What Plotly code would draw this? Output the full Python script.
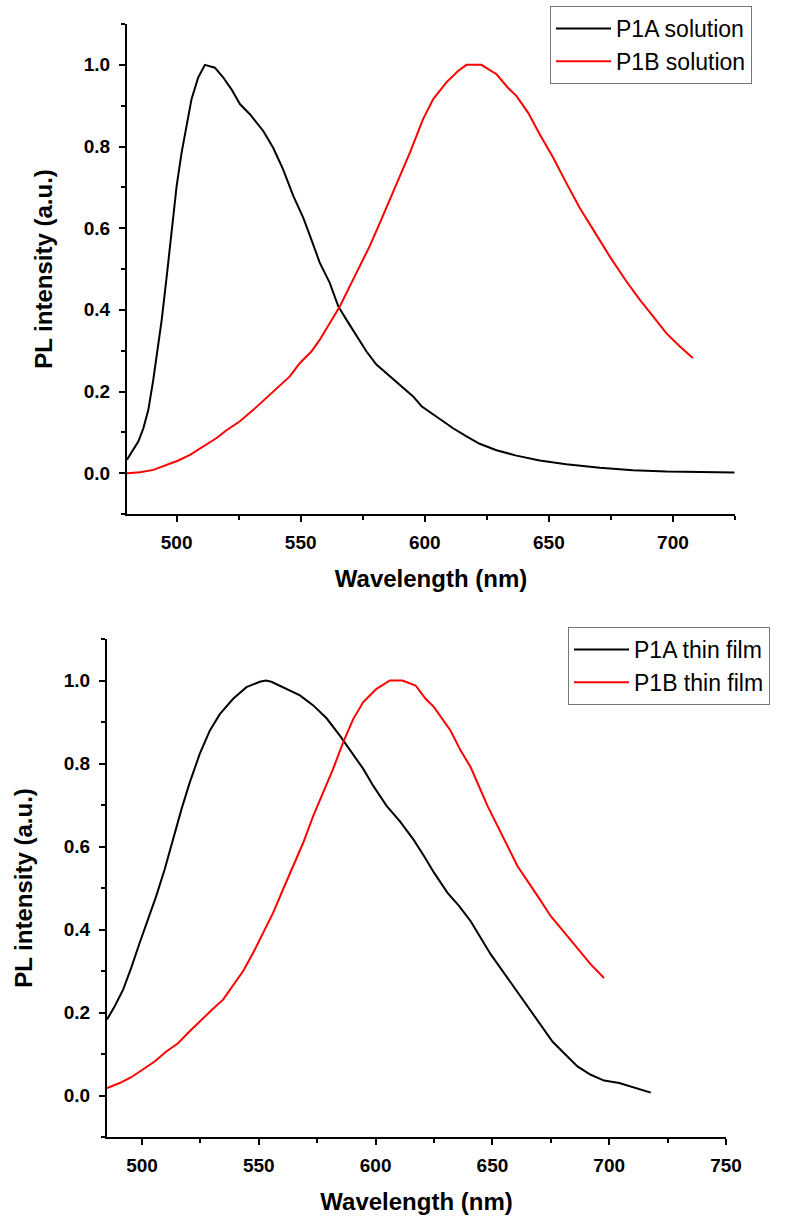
import plotly.graph_objects as go

# ---------------- data ----------------
sol_A_wl = [480, 484.6, 486.6, 488.6, 490.6, 492.2, 494, 496, 498, 500, 502, 504, 506, 508.7, 511.4,
            515.4, 518.8, 522.1, 525.5, 529.5, 534.9, 538.9, 542.9, 547, 551, 554.3, 557.7, 561.7,
            565.1, 568.4, 572.5, 576.5, 580.5, 585.9, 590.6, 595.3, 598.7, 602.7, 606, 611.4, 616.8,
            622.1, 628.9, 636.9, 646.3, 657, 670.5, 683.9, 697.3, 710.7, 724.8]
sol_A_int = [0.033, 0.078, 0.11, 0.155, 0.229, 0.294, 0.376, 0.482, 0.589, 0.703, 0.785, 0.85, 0.916,
             0.969, 1.0, 0.993, 0.969, 0.94, 0.904, 0.879, 0.838, 0.797, 0.744, 0.679, 0.626, 0.572,
             0.515, 0.466, 0.409, 0.376, 0.335, 0.298, 0.266, 0.237, 0.211, 0.188, 0.164, 0.147, 0.131,
             0.11, 0.09, 0.072, 0.056, 0.043, 0.031, 0.022, 0.013, 0.007, 0.004, 0.0025, 0.0016]

sol_B_wl = [480, 485.2, 490.6, 496, 500.7, 505.4, 510.7, 516.1, 520.1, 525.5, 530.9, 536.2, 541.6,
            545.6, 549.7, 554.3, 557.7, 561.7, 565.8, 569.8, 573.8, 577.8, 581.9, 585.9, 589.9, 594,
            599.3, 603.4, 608.7, 613.4, 616.8, 622.8, 628.9, 633.5, 636.9, 641.6, 646.3, 651.7, 657,
            662.4, 667.8, 674.5, 681.2, 686.6, 692, 697.3, 702.7, 708]
sol_B_int = [0.0, 0.002, 0.008, 0.02, 0.031, 0.045, 0.065, 0.086, 0.105, 0.127, 0.155, 0.184, 0.213,
             0.237, 0.27, 0.298, 0.327, 0.368, 0.409, 0.458, 0.507, 0.556, 0.613, 0.67, 0.728, 0.785,
             0.867, 0.916, 0.957, 0.985, 1.0, 1.0, 0.977, 0.944, 0.924, 0.883, 0.83, 0.773, 0.711,
             0.65, 0.597, 0.531, 0.47, 0.425, 0.384, 0.343, 0.311, 0.282]

film_A_wl = [485, 488.3, 491.9, 495.4, 499, 502.6, 506.1, 509.7, 513.3, 516.9, 520.4, 524.7, 529,
             533.3, 539, 544.7, 550.4, 553, 555.4, 560.4, 567.6, 573.3, 579, 584.7, 590.4, 594.7, 599,
             604.7, 610.5, 616.3, 620.7, 625, 630.7, 635.7, 640.7, 645, 649.3, 655, 660, 665, 670.7,
             675.7, 680.7, 686.4, 692.1, 697.8, 704.3, 710.7, 717.8]
film_A_int = [0.183, 0.215, 0.255, 0.308, 0.368, 0.424, 0.481, 0.545, 0.618, 0.69, 0.754, 0.823,
              0.879, 0.919, 0.956, 0.984, 0.997, 1.0, 0.997, 0.984, 0.964, 0.94, 0.909, 0.867, 0.823,
              0.787, 0.746, 0.698, 0.66, 0.616, 0.577, 0.537, 0.489, 0.457, 0.42, 0.38, 0.34, 0.295,
              0.255, 0.215, 0.167, 0.13, 0.102, 0.07, 0.05, 0.036, 0.03, 0.019, 0.007]

film_B_wl = [485, 490.4, 495.4, 500.4, 505.4, 510.4, 515.4, 520.4, 525.4, 530.4, 534.7, 539, 543.3,
             547.6, 551.8, 556.1, 560.4, 564.7, 569, 573.3, 577.6, 581.8, 586.1, 590.4, 594.7, 600.4,
             606.1, 611.5, 617.1, 621.4, 625, 632.1, 636.4, 640.7, 647.9, 653.6, 660.7, 669.3, 675,
             682.1, 687.8, 692.1, 697.8]
film_B_int = [0.018, 0.03, 0.044, 0.062, 0.082, 0.106, 0.126, 0.155, 0.183, 0.209, 0.231, 0.267,
              0.3, 0.344, 0.392, 0.44, 0.497, 0.553, 0.609, 0.674, 0.73, 0.787, 0.851, 0.907, 0.948,
              0.98, 1.0, 1.0, 0.988, 0.956, 0.936, 0.879, 0.831, 0.791, 0.698, 0.634, 0.553, 0.481,
              0.432, 0.384, 0.344, 0.316, 0.283]

names_top = ["P1A solution", "P1B solution"]
names_bot = ["P1A thin film", "P1B thin film"]
colors = ["#000000", "#ff0000"]

x_title = "Wavelength (nm)"
y_title = "PL intensity (a.u.)"

# ---------------- figure ----------------
W, H = 787, 1225
fig = go.Figure()

fig.add_trace(go.Scatter(x=sol_A_wl, y=sol_A_int, mode="lines", name=names_top[0],
                         line=dict(color=colors[0], width=2), xaxis="x", yaxis="y", legend="legend"))
fig.add_trace(go.Scatter(x=sol_B_wl, y=sol_B_int, mode="lines", name=names_top[1],
                         line=dict(color=colors[1], width=2), xaxis="x", yaxis="y", legend="legend"))
fig.add_trace(go.Scatter(x=film_A_wl, y=film_A_int, mode="lines", name=names_bot[0],
                         line=dict(color=colors[0], width=2), xaxis="x2", yaxis="y2", legend="legend2"))
fig.add_trace(go.Scatter(x=film_B_wl, y=film_B_int, mode="lines", name=names_bot[1],
                         line=dict(color=colors[1], width=2), xaxis="x2", yaxis="y2", legend="legend2"))

tick_font = dict(family="Arial, Liberation Sans", size=19, color="black", weight="bold")
title_font = dict(family="Arial, Liberation Sans", size=24, color="black", weight="bold")

def xax(domain, rng, anchor):
    return dict(domain=domain, range=rng, anchor=anchor, automargin=False,
                showline=True, linewidth=2, linecolor="black",
                ticks="outside", ticklen=6, tickwidth=2, tickcolor="black", tick0=500, dtick=50,
                minor=dict(ticks="outside", ticklen=4, tickwidth=2, tickcolor="black", dtick=25, tick0=500),
                showgrid=False, zeroline=False, tickfont=tick_font, ticklabelstandoff=4,
                title=dict(text=x_title, font=title_font, standoff=18))

def yax(domain, anchor):
    return dict(domain=domain, range=[-0.1, 1.1], anchor=anchor, automargin=False,
                showline=True, linewidth=2,
                linecolor="black", ticks="outside", ticklen=6, tickwidth=2, tickcolor="black",
                tick0=0, dtick=0.2, tickformat=".1f",
                minor=dict(ticks="outside", ticklen=4, tickwidth=2, tickcolor="black", dtick=0.1, tick0=0),
                showgrid=False, zeroline=False, tickfont=tick_font, ticklabelstandoff=5,
                title=dict(text=y_title, font=title_font, standoff=24))

legend_font = dict(family="Arial, Liberation Sans", size=23, color="black")

fig.update_layout(
    width=W, height=H,
    margin=dict(l=0, r=0, t=0, b=0, autoexpand=False),
    paper_bgcolor="white", plot_bgcolor="white",
    xaxis=xax([127 / W, 735 / W], [480, 725], "y"),
    yaxis=yax([1 - 514 / H, 1 - 24 / H], "x"),
    xaxis2=xax([107 / W, 726 / W], [485, 750], "y2"),
    yaxis2=yax([1 - 1137 / H, 1 - 639 / H], "x2"),
    legend=dict(x=550 / W, y=1 - 6 / H, xanchor="left", yanchor="top",
                bgcolor="white", bordercolor="#777777", borderwidth=1,
                font=legend_font, tracegroupgap=0, itemwidth=55),
    legend2=dict(x=568 / W, y=1 - 627 / H, xanchor="left", yanchor="top",
                 bgcolor="white", bordercolor="#777777", borderwidth=1,
                 font=legend_font, tracegroupgap=0, itemwidth=55),
    showlegend=True,
)

fig.write_html("out.html")
